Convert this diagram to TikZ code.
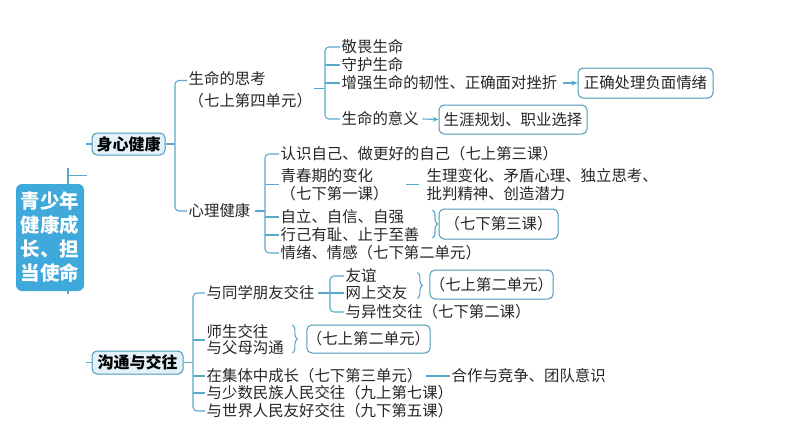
\documentclass[tikz,border=0pt]{standalone}
\usepackage{fontspec}
\newfontfamily\cjk{Noto Sans CJK SC}
\usetikzlibrary{decorations.pathreplacing,arrows.meta,calc}
\definecolor{lineblue}{HTML}{5AA8CB}
\definecolor{rootblue}{HTML}{3FA9DB}
\definecolor{hdrfill}{HTML}{E3F2FA}
\definecolor{boxedge}{HTML}{4C98B8}
\tikzset{
  txt/.style={anchor=west, inner sep=1.5pt, align=left, text=black!85,
    font=\cjk\fontsize{15.4}{19}\selectfont},
  txttwo/.style={txt, font=\cjk\fontsize{15.4}{17.5}\selectfont},
  txtwide/.style={txt, font=\cjk\fontsize{15.4}{22}\selectfont},
  hdr/.style={draw=boxedge, fill=hdrfill, rounded corners=5pt, line width=1pt,
    inner sep=0pt, text=black, font=\cjk\bfseries\fontsize{16}{18}\selectfont},
  rbox/.style={draw=boxedge, rounded corners=5pt, line width=1pt, inner sep=0pt,
    text=black!85, font=\cjk\fontsize{15.4}{18}\selectfont},
  rootbox/.style={fill=rootblue, rounded corners=6pt, inner sep=0pt, text=white,
    align=center, minimum width=68pt, minimum height=107pt,
    font=\cjk\bfseries\fontsize{19.5}{24}\selectfont},
  conn/.style={draw=lineblue, line width=1.1pt},
  brk/.style={conn, rounded corners=4pt},
  arr/.style={conn, -{Stealth[length=6pt,width=5pt]}},
  brc/.style={conn, decorate, decoration={brace, amplitude=5pt}}
}
\begin{document}
\begin{tikzpicture}[x=1pt,y=-1pt]
\useasboundingbox (0,0) rectangle (794,447);

% root and headers
\node[rootbox] (root) at (50,237.5) {青少年\\健康成\\长、担\\当使命};
\node[hdr, minimum width=73pt, minimum height=22pt] (h1) at (128.5,144) {身心健康};
\node[hdr, minimum width=91pt, minimum height=23pt] (h2) at (137.5,362.5) {沟通与交往};

% level 2
\node[txtwide] (a1) at (187,89.5) {生命的思考\\（七上第四单元）};
\node[txt] (a2) at (187,211) {心理健康};

% group b
\node[txt] (b1) at (340,47) {敬畏生命};
\node[txt] (b2) at (340,65) {守护生命};
\node[txt] (b3) at (340,83) {增强生命的韧性、正确面对挫折};
\node[txt] (b4) at (340,119) {生命的意义};
\node[rbox, minimum width=135pt, minimum height=30pt] (bx1) at (645.5,83) {正确处理负面情绪};
\node[rbox, minimum width=148pt, minimum height=29pt] (bx2) at (513,119.5) {生涯规划、职业选择};

% group c
\node[txt] (c1) at (279,154) {认识自己、做更好的自己（七上第三课）};
\node[txttwo] (c2) at (279,184.5) {青春期的变化\\（七下第一课）};
\node[txt] (c3) at (279,217) {自立、自信、自强};
\node[txt] (c4) at (279,235) {行己有耻、止于至善};
\node[txt] (c5) at (279,253) {情绪、情感（七下第二单元）};
\node[txttwo] (c6) at (425,184.5) {生理变化、矛盾心理、独立思考、\\批判精神、创造潜力};
\node[rbox, minimum width=119pt, minimum height=30pt] (cx) at (498.5,224) {（七下第三课）};

% group d
\node[txt] (d1) at (205,293) {与同学朋友交往};
\node[txt, font=\cjk\fontsize{15.4}{16}\selectfont] (d2) at (205,340) {师生交往\\与父母沟通};
\node[txt] (d3) at (205,376) {在集体中成长（七下第三单元）};
\node[txt] (d4) at (205,393) {与少数民族人民交往（九上第七课）};
\node[txt] (d5) at (205,411) {与世界人民友好交往（九下第五课）};
\node[txt] (d6) at (450,376) {合作与竞争、团队意识};
\node[rbox, minimum width=123pt, minimum height=28pt] (dx) at (368.5,339) {（七上第二单元）};

% group e
\node[txt] (e1) at (344,276) {友谊};
\node[txt] (e2) at (344,293) {网上交友};
\node[txt] (e3) at (344,312) {与异性交往（七下第二课）};
\node[rbox, minimum width=123pt, minimum height=29pt] (ex) at (491.5,284.5) {（七上第二单元）};

% bracket x positions
\coordinate (xA) at (175,0);
\coordinate (xB) at (325,0);
\coordinate (xC) at (265,0);
\coordinate (xD) at (193,0);
\coordinate (xE) at (330,0);
\coordinate (a1top) at ($(a1.north west)+(0,11)$);
\coordinate (a1mid) at ($(a1.east)+(0,-1)$);

% root stubs
\draw[conn] ([xshift=18pt]root.north) -- ++(0,-16);
\draw[conn] ([xshift=18pt, yshift=8pt]root.north) -- ++(19,0);
\draw[conn] ([xshift=18pt]root.south) -- ++(0,3);
\draw[conn] (h1.west) -- ++(-6,0);
\draw[conn] (h2.west) -- ++(-6,0);

% bracket A (from h1)
\draw[conn] (h1.east) -- (xA |- h1.east);
\draw[brk] (a1top) -- (xA |- a1top) -- (xA |- a2.west) -- (a2.west);

% bracket B
\draw[conn] (a1mid) -- (xB |- a1mid);
\draw[brk] (b1.west) -- (xB |- b1.west) -- (xB |- b4.west) -- (b4.west);
\draw[conn] (xB |- b2.west) -- (b2.west);
\draw[conn] (xB |- b3.west) -- (b3.west);
\draw[arr] ([xshift=4pt]b3.east) -- (bx1.west);
\draw[arr] ([xshift=2pt]b4.east) -- (bx2.west);

% bracket C
\draw[conn] ([xshift=3pt]a2.east) -- (xC |- a2.east);
\draw[brk] (c1.west) -- (xC |- c1.west) -- (xC |- c5.west) -- (c5.west);
\draw[conn] (xC |- c2.west) -- (c2.west);
\draw[conn] (xC |- c3.west) -- (c3.west);
\draw[conn] (xC |- c4.west) -- (c4.west);
\draw[conn] ([xshift=16pt]c2.east) -- ([xshift=-6pt]c6.west);
\draw[brc] ($(cx.west)+(-6,-14)$) -- ($(cx.west)+(-6,14)$);

% bracket D
\draw[conn] (h2.east) -- (xD |- h2.east);
\draw[brk] (d1.west) -- (xD |- d1.west) -- (xD |- d5.west) -- (d5.west);
\draw[conn] (xD |- d2.west) -- (d2.west);
\draw[conn] (xD |- d3.west) -- (d3.west);
\draw[conn] (xD |- d4.west) -- (d4.west);
\draw[conn] ([xshift=2pt]d3.east) -- (d6.west);
\draw[brc] ($(dx.west)+(-14,-14)$) -- ($(dx.west)+(-14,14)$);

% bracket E
\draw[conn] ([xshift=2pt]d1.east) -- (xE |- d1.east);
\draw[brk] (e1.west) -- (xE |- e1.west) -- (xE |- e3.west) -- (e3.west);
\draw[conn] (xE |- e2.west) -- (e2.west);
\draw[brc] ($(ex.west)+(-12,-12)$) -- ($(ex.west)+(-12,14)$);
\end{tikzpicture}
\end{document}
